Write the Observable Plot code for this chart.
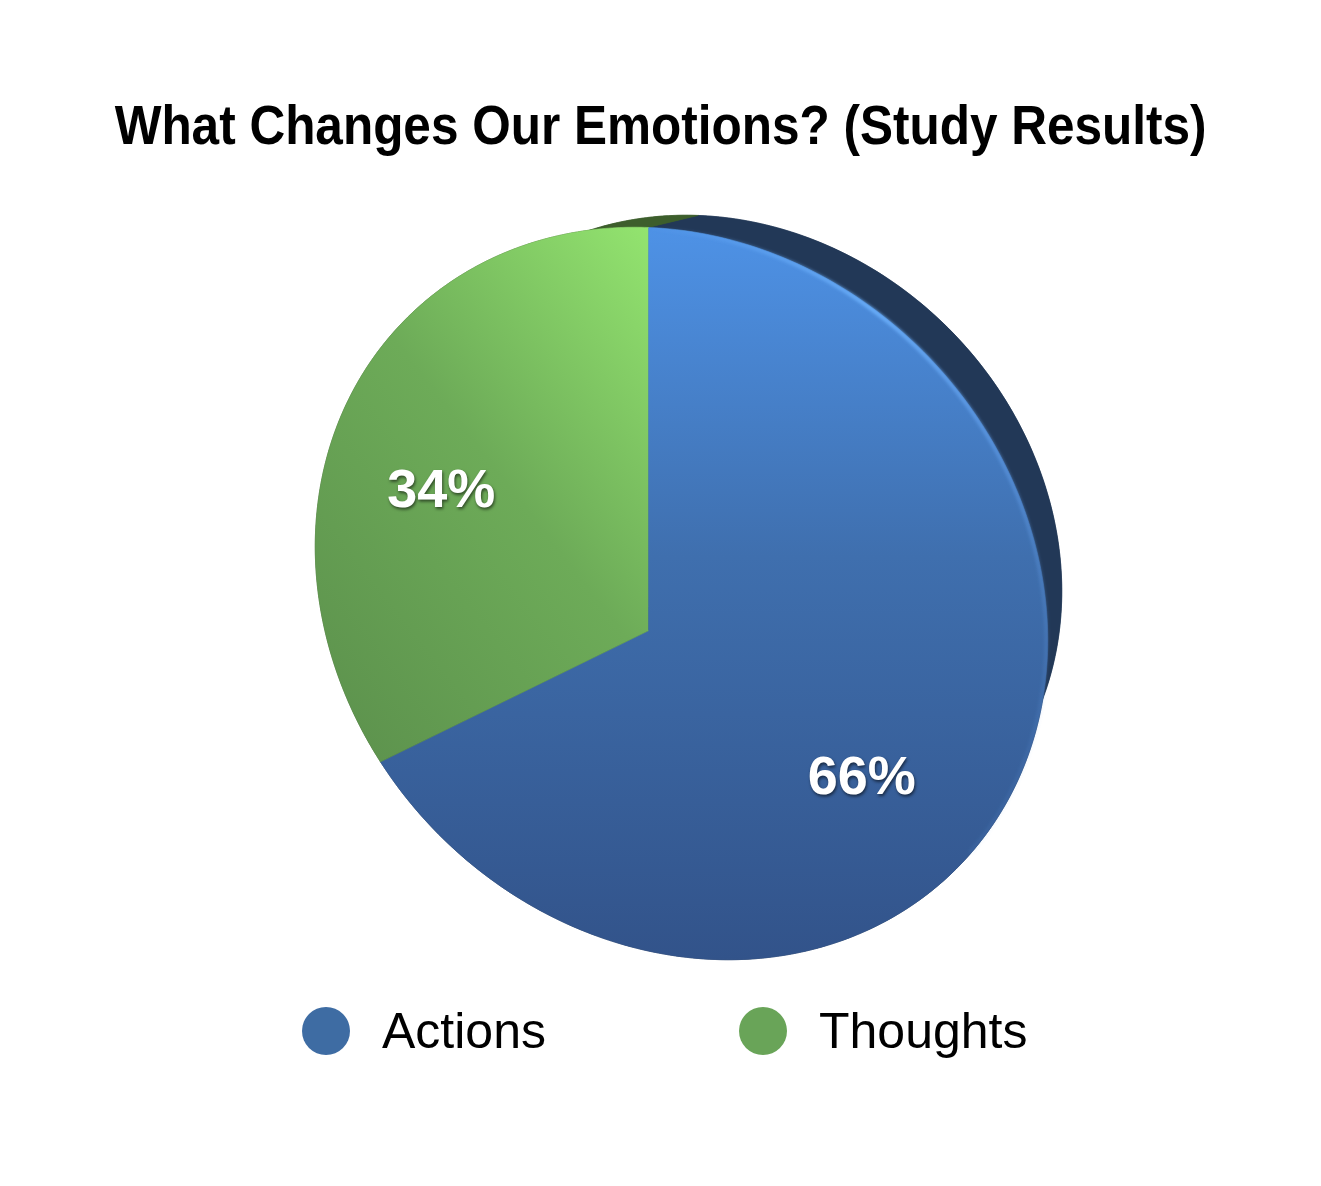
<!DOCTYPE html>
<html><head><meta charset="utf-8">
<script src="https://cdn.jsdelivr.net/npm/d3@7"></script>
<script src="https://cdn.jsdelivr.net/npm/@observablehq/plot@0.6"></script>
<style>
body{margin:0;background:#fff;width:1321px;height:1186px;position:relative;overflow:hidden;font-family:"Liberation Sans",Arial,Helvetica,sans-serif}
#title{position:absolute;left:0;width:1321px;top:98px;text-align:center;font-weight:bold;font-size:55px;line-height:55px;color:#000;white-space:nowrap}
#title span{display:inline-block;transform:scaleX(0.9)}
#chart{position:absolute;left:0;top:190px}
#legend{position:absolute;left:302px;top:1006px;display:flex;align-items:center}
.item{display:flex;align-items:center;margin-right:193px}
.dot{width:48px;height:48px;border-radius:50%;margin-right:32px}
.lab{font-size:50px;line-height:50px;color:#000}
g[aria-label="text"] text{filter:drop-shadow(1px 2px 1.5px rgba(0,0,0,0.55))}
</style></head>
<body>
<div id="title"><span>What Changes Our Emotions? (Study Results)</span></div>
<div id="chart"></div>
<div id="legend"></div>
<script>
// ---- data ----
const categories = ["Actions", "Thoughts"];
const values = [66, 34];
const labels = ["66%", "34%"];
const legendColors = ["#3e6ca3", "#69a458"];
const sideColors = ["#223857", "#3d5e2c"];

// ---- layout / projection constants (styles, not data) ----
const W = 1321, H = 800;
const G = {cx: 681, cy: 403, a: 389, b: 342,
  m: [Math.SQRT1_2, Math.SQRT1_2], n: [-Math.SQRT1_2, Math.SQRT1_2],
  p: [0.0074, 0.146], backScale: 0.91, backShift: [47, -45], labelR: 0.665};

function boost(x, y, px, py) {
  const r = Math.hypot(px, py);
  if (r === 0) return [x, y];
  const c = px / r, s = py / r;
  const xr = c * x + s * y, yr = -s * x + c * y;
  const den = 1 + r * xr;
  const xb = (xr + r) / den, yb = yr * Math.sqrt(1 - r * r) / den;
  return [c * xb - s * yb, s * xb + c * yb];
}
function toPix(u, v) {
  return [G.cx + G.a * u * G.m[0] + G.b * v * G.n[0], G.cy + G.a * u * G.m[1] + G.b * v * G.n[1]];
}
const V = toPix(...boost(0, 0, G.p[0], G.p[1]));
// angle whose outline point lies straight above the vertex (12 o'clock)
let alpha0 = 0, best = Infinity;
for (let i = 0; i < 36000; i++) {
  const al = -Math.PI + i * 2 * Math.PI / 36000;
  const P = toPix(...boost(Math.cos(al), Math.sin(al), G.p[0], G.p[1]));
  if (P[1] < V[1] && Math.abs(P[0] - V[0]) < best) { best = Math.abs(P[0] - V[0]); alpha0 = al; }
}
function front(theta, k = 1) {
  const al = alpha0 + theta;
  return toPix(...boost(k * Math.cos(al), k * Math.sin(al), G.p[0], G.p[1]));
}
function back(P) {
  return [G.cx + G.backScale * (P[0] - G.cx) + G.backShift[0], G.cy + G.backScale * (P[1] - G.cy) + G.backShift[1]];
}
const pt = P => ({x: P[0], y: P[1]});

const arcs = d3.pie().sort(null)(values);
const marks = [];
marks.push(() => {
  const defs = document.createElementNS("http://www.w3.org/2000/svg", "defs");
  defs.innerHTML = `
  <linearGradient id="g0" x1="0" y1="0" x2="0" y2="1">
    <stop offset="0" stop-color="#4e92e6"/><stop offset="0.45" stop-color="#3f6fae"/><stop offset="1" stop-color="#32538a"/>
  </linearGradient>
  <linearGradient id="g1" x1="1" y1="0" x2="0.2" y2="1">
    <stop offset="0" stop-color="#93e46f"/><stop offset="0.5" stop-color="#6dab58"/><stop offset="1" stop-color="#5e944e"/>
  </linearGradient>
  <linearGradient id="rim" x1="0" y1="0" x2="1" y2="1">
    <stop offset="0" stop-color="#6fb4ff" stop-opacity="0"/><stop offset="0.35" stop-color="#6fb4ff" stop-opacity="0.85"/>
    <stop offset="0.6" stop-color="#6aa8f5" stop-opacity="0.5"/><stop offset="1" stop-color="#5d95d8" stop-opacity="0"/>
  </linearGradient>
  <filter id="soft" x="-5%" y="-5%" width="110%" height="110%"><feGaussianBlur stdDeviation="1.8"/></filter>`;
  return defs;
});
const steps = 240;
const sliceGeo = arcs.map((a, i) => {
  const arc = d3.range(steps + 1).map(j => front(a.startAngle + (a.endAngle - a.startAngle) * j / steps));
  const backArc = arc.map(back);
  return {
    front: [V, ...arc].map(pt),
    ribbon: [...arc, ...backArc.slice().reverse()].map(pt),
    back: [back(V), ...backArc].map(pt)
  };
});
// back faces and side walls
sliceGeo.forEach((g, i) => {
  marks.push(Plot.line(g.back, {x: "x", y: "y", fill: sideColors[i], stroke: sideColors[i], strokeWidth: 0.5}));
});
sliceGeo.forEach((g, i) => {
  marks.push(Plot.line(g.ribbon, {x: "x", y: "y", fill: sideColors[i], stroke: sideColors[i], strokeWidth: 0.5}));
});
// front faces
sliceGeo.forEach((g, i) => {
  marks.push(Plot.line(g.front, {x: "x", y: "y", fill: `url(#g${i})`, stroke: `url(#g${i})`, strokeWidth: 0.6}));
});
// light rim along the upper-right edge of the first slice
const rimArc = d3.range(0, 121).map(j => front(arcs[0].startAngle + (j / 120) * (arcs[0].endAngle - arcs[0].startAngle) * 0.5, 0.997)).map(pt);
marks.push(Plot.line(rimArc, {x: "x", y: "y", stroke: "url(#rim)", strokeWidth: 4}));

// labels
const labelData = arcs.map((a, i) => {
  const P = front((a.startAngle + a.endAngle) / 2, G.labelR);
  return {x: P[0], y: P[1], text: labels[i]};
});
marks.push(Plot.text(labelData, {x: "x", y: "y", text: "text", fill: "white", fontSize: 54, fontWeight: "bold",
  fontFamily: "Liberation Sans, Arial, sans-serif"}));

const chart = Plot.plot({
  width: W, height: H, margin: 0,
  x: {domain: [0, W], range: [0, W], axis: null},
  y: {domain: [0, H], range: [0, H], axis: null},
  marks
});
chart.querySelectorAll('g[aria-label="line"]').forEach((g, i, all) => {
  if (i === all.length - 1) g.setAttribute("filter", "url(#soft)");
});
document.getElementById("chart").appendChild(chart);

// legend
const leg = document.getElementById("legend");
categories.forEach((c, i) => {
  const it = document.createElement("div"); it.className = "item";
  const d = document.createElement("div"); d.className = "dot"; d.style.background = legendColors[i];
  const t = document.createElement("div"); t.className = "lab"; t.textContent = c;
  it.appendChild(d); it.appendChild(t); leg.appendChild(it);
});
</script>
</body></html>
